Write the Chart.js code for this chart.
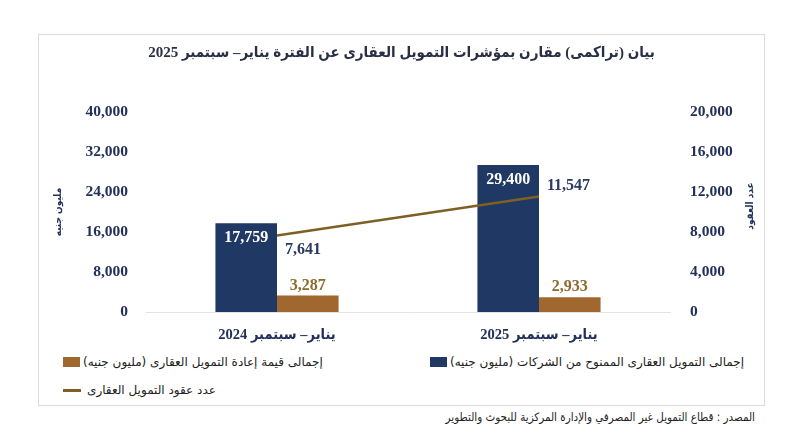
<!DOCTYPE html>
<html lang="ar">
<head>
<meta charset="utf-8">
<script src="https://cdn.jsdelivr.net/npm/chart.js@4.4.1/dist/chart.umd.min.js"></script>
<style>
body{margin:0;background:#fff;width:790px;height:447px;position:relative;overflow:hidden;font-family:"DejaVu Sans Condensed","DejaVu Sans",sans-serif;}
#frame{position:absolute;left:38px;top:34px;width:727px;height:372px;border:1px solid #dcdcdc;box-sizing:border-box;}
#wrap{position:absolute;left:0;top:0;width:725px;height:316px;}
.leg{position:absolute;display:flex;align-items:center;font-family:"DejaVu Sans",sans-serif;font-size:12px;color:#222;direction:ltr;white-space:nowrap;}
.leg .box{width:17px;height:10px;margin-right:3px;}
.leg .ln{width:18px;height:3px;margin-right:6px;}
.leg span{direction:rtl;}
#source{position:absolute;right:35px;top:410px;font-size:11.5px;direction:rtl;color:#222;}
</style>
</head>
<body>
<div id="frame">
	<div id="wrap"><canvas id="myChart" width="725" height="316" dir="rtl"></canvas></div>
	<div id="legend"></div>
</div>
<div id="source">المصدر : قطاع التمويل غير المصرفي والإدارة المركزية للبحوث والتطوير</div>
<script>
// values
const categories = ["يناير– سبتمبر 2024", "يناير– سبتمبر 2025"];
const financing = [17759, 29400];   // مليون جنيه
const refinancing = [3287, 2933];   // مليون جنيه
const contracts = [7641, 11547];    // عدد العقود
const seriesNames = [
	"إجمالى التمويل العقارى الممنوح من الشركات (مليون جنيه)",
	"إجمالى قيمة إعادة التمويل العقارى (مليون جنيه)",
	"عدد عقود التمويل العقارى",
];
const leftTicks = [0, 8000, 16000, 24000, 32000, 40000];
const rightTicks = [0, 4000, 8000, 12000, 16000, 20000];
const chartTitle = "بيان (تراكمى) مقارن بمؤشرات التمويل العقارى عن الفترة يناير– سبتمبر 2025";
const leftAxisTitle = "مليون جنيه";
const rightAxisTitle = "عدد العقود";

const navy = "#1F3864";
const brown = "#A0672F";
const olive = "#7E6024";
const tickColor = "#22305A";
const numFont = '"Liberation Serif", "DejaVu Sans Condensed", serif';
const arFont = '"DejaVu Sans Condensed", "DejaVu Sans", sans-serif';
const fmt = (v) => v.toLocaleString("en-US");

// value labels next to each mark, plus the right axis title (rotated the same way as the left one)
const valueLabels = {
	id: "valueLabels",
	afterDatasetsDraw(chart) {
		const ctx = chart.ctx;
		ctx.save();
		ctx.font = "bold 16px " + numFont;
		ctx.textBaseline = "middle";
		const lineOffsets = [14, -11];
		chart.data.datasets.forEach((ds, i) => {
			const meta = chart.getDatasetMeta(i);
			meta.data.forEach((el, j) => {
				const txt = fmt(ds.data[j]);
				if (i === 0) {
					ctx.fillStyle = "#fff";
					ctx.textAlign = "center";
					ctx.fillText(txt, el.x, el.y + 15);
				} else if (i === 1) {
					ctx.fillStyle = "#8B6A2C";
					ctx.textAlign = "center";
					ctx.fillText(txt, el.x, el.y - 10);
				} else {
					ctx.fillStyle = "#2B3A63";
					ctx.textAlign = "left";
					ctx.fillText(txt, el.x + 8, el.y + lineOffsets[j]);
				}
			});
		});
		const area = chart.chartArea;
		ctx.translate(chart.scales.y1.right - 14, (area.top + area.bottom) / 2 - 6);
		ctx.rotate(-Math.PI / 2);
		ctx.textAlign = "center";
		ctx.fillStyle = tickColor;
		ctx.font = "bold 10px " + arFont;
		ctx.fillText(rightAxisTitle, 0, 0);
		ctx.restore();
	},
};

const tickFont = { family: numFont, size: 15.5, weight: "bold" };

const ctx = document.getElementById("myChart").getContext("2d");
const myChart = new Chart(ctx, {
	type: "bar",
	data: {
		labels: categories,
		datasets: [
			{
				label: seriesNames[0],
				data: financing,
				backgroundColor: navy,
				yAxisID: "y",
				order: 1,
				categoryPercentage: 0.47,
				barPercentage: 1,
			},
			{
				label: seriesNames[1],
				data: refinancing,
				backgroundColor: brown,
				yAxisID: "y",
				order: 1,
				categoryPercentage: 0.47,
				barPercentage: 1,
			},
			{
				type: "line",
				label: seriesNames[2],
				data: contracts,
				borderColor: olive,
				borderWidth: 2.5,
				pointRadius: 0,
				fill: false,
				yAxisID: "y1",
				order: 0,
			},
		],
	},
	options: {
		responsive: false,
		animation: false,
		layout: { padding: 0 },
		plugins: {
			legend: { display: false },
			tooltip: { enabled: false },
			title: {
				display: true,
				text: chartTitle,
				color: "#2A2F45",
				font: { family: numFont, size: 15, weight: "bold" },
				padding: { top: 9, bottom: 50 },
			},
		},
		scales: {
			x: {
				grid: { display: false, drawTicks: false },
				border: { display: true, color: "#e3e3e3" },
				ticks: {
					color: tickColor,
					padding: 15,
					font: { family: numFont, size: 14.5, weight: "bold" },
				},
				afterFit(scale) { scale.height = 39; },
			},
			y: {
				position: "left",
				min: 0,
				max: 40000,
				afterBuildTicks(scale) { scale.ticks = leftTicks.map((v) => ({ value: v })); },
				grid: { display: false, drawTicks: false },
				border: { display: false },
				ticks: {
					color: tickColor,
					padding: 18,
					font: tickFont,
					callback: (v) => fmt(v),
				},
				title: {
					display: true,
					text: leftAxisTitle,
					color: tickColor,
					font: { family: arFont, size: 10, weight: "bold" },
					padding: { top: 13, bottom: 0 },
				},
				afterFit(scale) { scale.width = 107; },
			},
			y1: {
				position: "right",
				min: 0,
				max: 20000,
				afterBuildTicks(scale) { scale.ticks = rightTicks.map((v) => ({ value: v })); },
				grid: { display: false, drawTicks: false },
				border: { display: false },
				ticks: {
					color: tickColor,
					padding: 20,
					font: tickFont,
					callback: (v) => fmt(v),
				},
				afterFit(scale) { scale.width = 94; },
			},
		},
	},
	plugins: [valueLabels],
});

// legend laid out like the original: two items on the first row, the line below
const legendSpots = [
	{ left: 391, top: 320, kind: "box", color: navy },
	{ left: 24, top: 320, kind: "box", color: brown },
	{ left: 24, top: 348, kind: "ln", color: olive },
];
const legend = document.getElementById("legend");
myChart.data.datasets.forEach((ds, i) => {
	const spot = legendSpots[i];
	const item = document.createElement("div");
	item.className = "leg";
	item.style.left = spot.left + "px";
	item.style.top = spot.top + "px";
	item.innerHTML = '<div class="' + spot.kind + '" style="background:' + spot.color + '"></div><span>' + ds.label + "</span>";
	legend.appendChild(item);
});
</script>
</body>
</html>
